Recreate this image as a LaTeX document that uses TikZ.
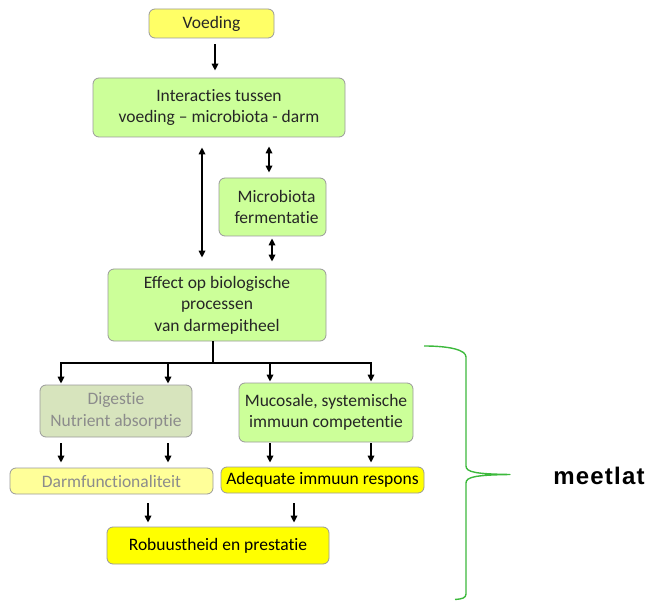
\documentclass[tikz,border=0pt]{standalone}
\usepackage{fontspec}
\setmainfont{Carlito}[Ligatures=NoCommon]
\newfontfamily\meetfont{Liberation Sans}
\usetikzlibrary{arrows.meta}
\definecolor{lgreen}{HTML}{CCFF99}
\definecolor{ggreen}{HTML}{D7E4BD}
\definecolor{pyellow}{HTML}{FFFF99}
\definecolor{myellow}{HTML}{FFFF66}
\definecolor{fyellow}{HTML}{FFFF00}
\definecolor{bordergray}{HTML}{9A9A9A}
\definecolor{txtgray}{HTML}{8C8C8C}
\definecolor{bracegreen}{HTML}{3CB93C}
\begin{document}
\begin{tikzpicture}[x=1pt,y=-1pt,
  box/.style={draw=bordergray, line width=0.8pt, rounded corners=6pt, align=center,
    inner sep=0pt, font=\fontsize{17.5}{21.5}\selectfont, text=black!85},
  arr/.style={line width=1.6pt, -{Triangle[length=7pt,width=6.5pt]}},
  darr/.style={line width=1.6pt, {Triangle[length=7pt,width=6.5pt]}-{Triangle[length=7pt,width=6.5pt]}},
  plain/.style={line width=1.6pt}]
\useasboundingbox (0,0) rectangle (650,601);

\node[box, fill=myellow, minimum width=125pt, minimum height=29pt] (voed) at (211.5,23.5) {Voeding};
\node[box, fill=lgreen, minimum width=252pt, minimum height=59pt] (inter) at (219,107.5) {Interacties tussen\\voeding -- microbiota - darm};
\node[box, fill=lgreen, minimum width=107pt, minimum height=58pt] (micro) at (272.5,207) {\hspace*{8pt}Microbiota\\\hspace*{8pt}fermentatie};
\node[box, fill=lgreen, minimum width=218pt, minimum height=72pt] (effect) at (217,305) {Effect op biologische\\processen\\van darmepitheel};
\node[box, fill=ggreen, text=txtgray, minimum width=152pt, minimum height=52pt] (dig) at (116,411) {Digestie\\Nutrient absorptie};
\node[box, fill=lgreen, minimum width=174pt, minimum height=59pt] (muc) at (326,412.5) {Mucosale, systemische\\immuun competentie};
\node[box, fill=pyellow, text=txtgray, minimum width=203pt, minimum height=26pt] (darm) at (111.5,481) {Darmfunctionaliteit};
\node[box, fill=fyellow, minimum width=203pt, minimum height=26pt, text=black] (adeq) at (322.5,480) {Adequate immuun respons};
\node[box, fill=fyellow, minimum width=222pt, minimum height=37pt, text=black] (rob) at (218,545.5) {Robuustheid en prestatie};

\coordinate (xa) at (215,0);
\coordinate (xb) at (202,0);
\coordinate (xc) at (269,0);
\coordinate (xd) at (272,0);
\coordinate (bar) at (213,363);
\coordinate (b1) at (61,363);
\coordinate (b2) at (168,363);
\coordinate (b3) at (270,363);
\coordinate (b4) at (371,363);
\coordinate (xr1) at (148,0);
\coordinate (xr2) at (294,0);

\draw[arr, shorten <=6pt, shorten >=7pt] (voed.south -| xa) -- (inter.north -| xa);
\draw[darr, shorten <=10pt, shorten >=11pt] (inter.south -| xb) -- (effect.north -| xb);
\draw[darr, shorten <=9pt, shorten >=5pt] (inter.south -| xc) -- (micro.north -| xc);
\draw[darr, shorten <=2pt, shorten >=7pt] (micro.south -| xd) -- (effect.north -| xd);

\draw[plain] (effect.south -| bar) -- (bar);
\draw[plain] ([xshift=-0.8pt]b1) -- ([xshift=0.8pt]b4);
\draw[arr, shorten >=1pt] (b1) -- (dig.north -| b1);
\draw[arr, shorten >=1pt] (b2) -- (dig.north -| b2);
\draw[arr, shorten >=1pt] (b3) -- (muc.north -| b3);
\draw[arr, shorten >=1pt] (b4) -- (muc.north -| b4);

\draw[arr, shorten <=6pt, shorten >=5pt] (dig.south -| b1) -- (darm.north -| b1);
\draw[arr, shorten <=6pt, shorten >=5pt] (dig.south -| b2) -- (darm.north -| b2);
\draw[arr, shorten <=1pt, shorten >=4pt] (muc.south -| b3) -- (adeq.north -| b3);
\draw[arr, shorten <=1pt, shorten >=4pt] (muc.south -| b4) -- (adeq.north -| b4);

\draw[arr, shorten <=9pt, shorten >=4pt] (darm.south -| xr1) -- (rob.north -| xr1);
\draw[arr, shorten <=10pt, shorten >=4pt] (adeq.south -| xr2) -- (rob.north -| xr2);

\draw[bracegreen, line width=1.4pt, line join=round]
  (424,346) .. controls (450,346) and (466,350) .. (466,357)
  -- (466,466) .. controls (466,472) and (475,474) .. (510,474.5)
  .. controls (475,475) and (466,477) .. (466,483)
  -- (466,594) .. controls (466,598) and (462,599) .. (455,599.5);

\node[font=\meetfont\bfseries\fontsize{24}{28}\selectfont, anchor=center] (meet) at (599,476) {\addfontfeature{LetterSpace=5}meetlat};
\end{tikzpicture}
\end{document}
